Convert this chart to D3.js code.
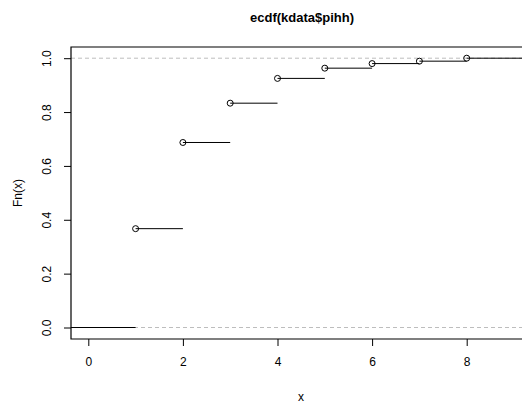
<!DOCTYPE html>
<html>
<head>
<meta charset="utf-8">
<script src="https://cdn.jsdelivr.net/npm/d3@7"></script>
<style>
  body { margin: 0; background: #fff; }
  text { font-family: "Liberation Sans", Arial, sans-serif; fill: #000; }
</style>
</head>
<body>
<svg id="chart" width="522" height="403"></svg>
<script>
// knots and ecdf values
var knots = [1, 2, 3, 4, 5, 6, 7, 8];
var fnValues = [0.367, 0.687, 0.833, 0.925, 0.963, 0.980, 0.989, 1.0];
var xTicks = [0, 2, 4, 6, 8];
var yTicks = [0, 0.2, 0.4, 0.6, 0.8, 1.0];

var svg = d3.select("#chart");

// plot box (right edge runs off the picture)
var boxLeft = 71, boxTop = 47, boxBottom = 339, boxRight = 560;

var x = d3.scaleLinear().domain([0, 8]).range([88.3, 466.7]);
var y = d3.scaleLinear().domain([0, 1]).range([327.5, 58.2]);

var xMin = x.invert(boxLeft), xMax = x.invert(boxRight);

// dashed lines at 0 and 1
svg.selectAll("line.ref")
        .data([0, 1])
        .enter().append("line")
        .attr("class", "ref")
        .attr("x1", boxLeft).attr("x2", boxRight)
        .attr("y1", function(d) { return y(d); })
        .attr("y2", function(d) { return y(d); })
        .style("stroke", "#bdbdbd")
        .style("stroke-width", "1px")
        .style("stroke-dasharray", "4,3");

// step segments
var steps = [{x0: xMin, x1: knots[0], v: 0}];
knots.forEach(function(k, i) {
    steps.push({x0: k, x1: i < knots.length - 1 ? knots[i + 1] : xMax, v: fnValues[i]});
});

svg.selectAll("line.step")
        .data(steps)
        .enter().append("line")
        .attr("class", "step")
        .attr("x1", function(d) { return x(d.x0); })
        .attr("x2", function(d) { return x(d.x1); })
        .attr("y1", function(d) { return y(d.v); })
        .attr("y2", function(d) { return y(d.v); })
        .style("stroke", "#000")
        .style("stroke-width", "1px");

svg.selectAll("circle.pt")
        .data(knots)
        .enter().append("circle")
        .attr("class", "pt")
        .attr("cx", function(d) { return x(d); })
        .attr("cy", function(d, i) { return y(fnValues[i]); })
        .attr("r", 3)
        .style("fill", "none")
        .style("stroke", "#000")
        .style("stroke-width", "1px");

// box
svg.append("path")
        .attr("d", "M" + boxRight + "," + boxTop + "H" + boxLeft + "V" + boxBottom + "H" + boxRight)
        .style("fill", "none")
        .style("stroke", "#000")
        .style("stroke-width", "1.2px");

// x axis
var xAxis = svg.append("g")
        .attr("transform", "translate(0," + boxBottom + ")")
        .call(d3.axisBottom(x).tickValues(xTicks).tickSize(7).tickPadding(11).tickFormat(d3.format("d")));
xAxis.select(".domain").remove();
xAxis.selectAll(".tick line").style("stroke", "#000").style("stroke-width", "1px");
xAxis.selectAll("text").style("font-size", "12px").style("fill", "#000");

// y axis
var yAxis = svg.append("g")
        .attr("transform", "translate(" + boxLeft + ",0)")
        .call(d3.axisLeft(y).tickValues(yTicks).tickSize(7).tickFormat(d3.format(".1f")));
yAxis.select(".domain").remove();
yAxis.selectAll(".tick line").style("stroke", "#000").style("stroke-width", "1px");
yAxis.selectAll("text")
        .attr("x", null)
        .attr("dy", null)
        .attr("transform", "translate(-24,0) rotate(-90)")
        .attr("dy", "0.35em")
        .style("text-anchor", "middle")
        .style("font-size", "12px")
        .style("fill", "#000");

// labels
svg.append("text")
        .attr("x", 302).attr("y", 22)
        .style("text-anchor", "middle")
        .style("font-weight", "bold")
        .style("font-size", "13px")
        .text("ecdf(kdata$pihh)");

svg.append("text")
        .attr("x", 301).attr("y", 401)
        .style("text-anchor", "middle")
        .style("font-size", "12px")
        .text("x");

svg.append("text")
        .attr("transform", "translate(22,193) rotate(-90)")
        .style("text-anchor", "middle")
        .style("font-size", "12px")
        .text("Fn(x)");
</script>
</body>
</html>
